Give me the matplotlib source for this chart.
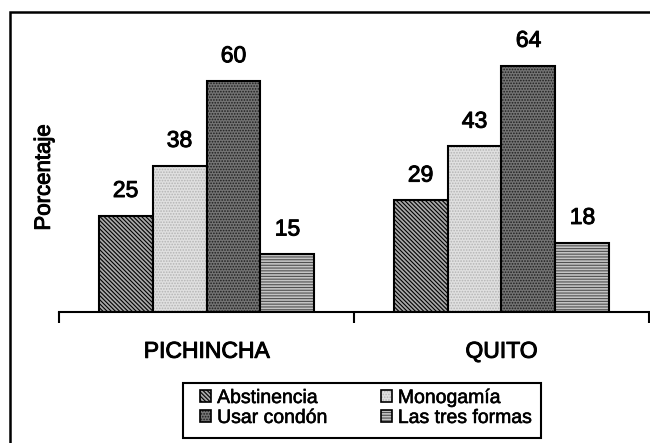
import numpy as np
import matplotlib
matplotlib.use("Agg")
import matplotlib.pyplot as plt
import matplotlib.patheffects as pe
from matplotlib.patches import Rectangle, Patch
from matplotlib.legend_handler import HandlerTuple

plt.rcParams['font.family'] = ['Liberation Sans', 'DejaVu Sans']
plt.rcParams['hatch.linewidth'] = 0.8

regiones = ["PICHINCHA", "QUITO"]
metodos = ["Abstinencia", "Monogamía", "Usar condón", "Las tres formas"]
valores = {
    "Abstinencia": [25, 29],
    "Monogamía": [38, 43],
    "Usar condón": [60, 64],
    "Las tres formas": [15, 18],
}

# relleno, color de trama, trama
estilos = {
    "Abstinencia": ("#a8a8a8", "#000000", "\\\\\\\\\\\\\\\\"),
    "Monogamía": ("#e0e0e0", "#b4b4b4", "......"),
    "Usar condón": ("#747474", "#1e1e1e", "......"),
    "Las tres formas": ("#c4c4c4", "#505050", "------"),
}

grueso = [pe.withStroke(linewidth=0.7, foreground="black")]

fig = plt.figure(figsize=(6.5, 4.43), dpi=100)
ax = fig.add_axes([59/650, 1 - 312/443, 590/650, (312 - 42.5)/443])

x = np.arange(len(regiones))
ancho = 0.183
handles = {}
for i, m in enumerate(metodos):
    pos = x + (i - 1.5) * ancho
    cara, trama_col, trama = estilos[m]
    ax.bar(pos, valores[m], ancho, color=cara, edgecolor=trama_col,
           hatch=trama, linewidth=0)
    ax.bar(pos, valores[m], ancho, fill=False, edgecolor="black", linewidth=1.5)
    for p, v in zip(pos, valores[m]):
        ax.annotate(str(v), (p, v), xytext=(0, 13.5), textcoords="offset points",
                    ha="center", va="baseline", fontsize=16.5, path_effects=grueso)
    h1 = Patch(facecolor=cara, edgecolor=trama_col, hatch=trama, linewidth=0)
    h2 = Patch(fill=False, edgecolor="black", linewidth=1.2)
    handles[m] = (h1, h2)

ax.set_xlim(-0.5, 1.5)
ax.set_ylim(0, 70)
for s in ["top", "right", "left"]:
    ax.spines[s].set_visible(False)
ax.spines["bottom"].set_linewidth(1.5)
ax.set_yticks([])
ax.set_xticks([-0.5, 0.5, 1.5])
ax.set_xticklabels([])
ax.tick_params(axis="x", which="major", length=8, width=1.5, direction="out")
ax.set_xticks(x, minor=True)
ax.set_xticklabels(regiones, minor=True, fontsize=16.5)
for t in ax.get_xticklabels(minor=True):
    t.set_path_effects(grueso)
ax.tick_params(axis="x", which="minor", length=0, pad=20)
ax.set_ylabel("Porcentaje", fontsize=16, labelpad=3, path_effects=grueso)

# la leyenda se llena por columnas: orden para que quede por filas
orden = ["Abstinencia", "Usar condón", "Monogamía", "Las tres formas"]
leg = fig.legend([handles[m] for m in orden], orden, ncol=2, loc="upper left",
                 bbox_to_anchor=(200/650, 1 - 390/443),
                 handler_map={tuple: HandlerTuple(ndivide=1)},
                 fontsize=14, frameon=False,
                 handlelength=0.58, handleheight=0.6, handletextpad=0.3,
                 labelspacing=0.15, columnspacing=2.7, borderpad=0, borderaxespad=0)
for t in leg.get_texts():
    t.set_path_effects([pe.withStroke(linewidth=0.4, foreground="black")])

# marco de la leyenda
fig.patches.append(Rectangle((183/650, 1 - 438/443), (541 - 183)/650, 55/443,
                             transform=fig.transFigure, fill=False,
                             edgecolor="black", linewidth=1.5))

# marco exterior
fig.patches.append(Rectangle((10/650, -0.1), 1.2, 1.1 - 12/443,
                             transform=fig.transFigure, fill=False,
                             edgecolor="black", linewidth=1.8))

fig.savefig("out.png", dpi=100)
